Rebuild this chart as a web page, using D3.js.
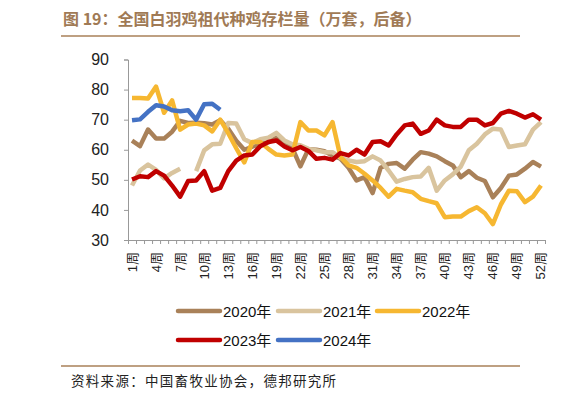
<html>
<head>
<meta charset="utf-8">
<script src="https://d3js.org/d3.v7.min.js"></script>
<style>
body { margin: 0; background: #fff; }
text { font-family: Arial, "Liberation Sans", "Noto Sans CJK SC", sans-serif; }
.cjk { font-family: "Noto Sans CJK SC", sans-serif; }
</style>
</head>
<body>
<svg width="582" height="404"></svg>
<script>
// weeks 1..52
var weeks = d3.range(1, 53);
var weekLabels = weeks.filter(function(w) { return (w - 1) % 3 == 0; });
var yTicks = [30, 40, 50, 60, 70, 80, 90];

var s2020 = [63, 61.2, 66.7, 63.7, 63.7, 66, 69.6, 68.9, 69, 68.8, 68.4, 69.8, 67, 63, 60, 61, 62, 62.5, 64, 62,
  60.5, 54.5, 60.2, 60, 59.5, 58.1, 57, 54, 49.8, 50.9, 45.6, 54, 55.3, 55.6, 53.7, 56.7, 59.2, 58.7, 57.8, 56.2,
  54.8, 50.9, 52.9, 50.7, 49.6, 44.2, 47.3, 51.4, 51.8, 53.7, 55.9, 54.4];
var s2021 = [48.1, 53.1, 55.1, 53.3, 50.5, 52.3, 53.7, null, 52.9, 59.8, 61.8, 62, 68.9, 68.7, 63.5, 62.2, 63.5, 64, 65.6, 63.1,
  61.8, 61.5, 60.3, 59.8, 59.2, 59.2, 57.3, 56.4, 55.9, 56.2, 57.8, 56.4, 53.1, 49.4, 50.3, 50.9, 51.1, 54, 46.4, 49.8,
  51.8, 54.4, 59.8, 62, 65.1, 67, 66.7, 60.9, 61.4, 61.8, 66.7, 69.2];
var s2022 = [77.2, 77.2, 77, 81, 72.3, 76.4, 66.7, 68.4, 68.7, 68.1, 66.1, 70, 65.5, 60.5, 55.8, 62.6, 62.6, 60.3, 58.4, 58.1,
  58.4, 69.2, 66.4, 66.4, 64.8, 69.2, 57.6, 54.8, 54, 52, 49.8, 47.3, 44.4, 47, 46.4, 45.9, 43.7, 42.9, 42.2, 37.6,
  37.8, 37.8, 39.6, 40.9, 38.9, 35.3, 41.8, 46.4, 46.2, 42.6, 44.4, 48.1];
var s2023 = [50.1, 51.2, 50.9, 52.9, 51.4, 48.1, 44.4, 49.6, 49.8, 52.9, 46.4, 47.3, 52.9, 56.4, 58.1, 58.4, 61.2, 62.6, 63.1, 61.1,
  59.8, 60.9, 59.6, 57, 57.3, 56.7, 58.9, 58.1, 60, 58.4, 62.6, 62.8, 61.4, 65.1, 68.1, 68.7, 65.3, 66.4, 70, 68.1,
  67.6, 67.6, 70, 70, 68.1, 68.9, 72, 72.9, 72, 70.7, 71.8, 70];
var s2024 = [69.8, 70.1, 72.6, 74.8, 74.4, 73.1, 72.8, 73.1, 70, 75.1, 75.3, 73.3];

var seriesNames = ["2020年", "2021年", "2022年", "2023年", "2024年"];
var seriesData = [s2020, s2021, s2022, s2023, s2024];
var colors = ["#a98159", "#d9c49e", "#f6b731", "#c00000", "#4472c4"];

var svg = d3.select("svg");

// title and rules
svg.append("text").attr("class", "cjk")
  .attr("x", 63).attr("y", 25)
  .attr("font-size", 16).attr("font-weight", "bold").attr("fill", "#a07a55")
  .text("图 19：全国白羽鸡祖代种鸡存栏量（万套，后备）");
svg.append("line").attr("x1", 61).attr("x2", 520).attr("y1", 36).attr("y2", 36)
  .attr("stroke", "#a98159").attr("stroke-width", 1.5);
svg.append("line").attr("x1", 61).attr("x2", 520).attr("y1", 366).attr("y2", 366)
  .attr("stroke", "#a98159").attr("stroke-width", 1.5);

var x = d3.scaleBand().domain(weeks).range([128, 545]);
var xEdge = d3.scaleLinear().domain([0, 52]).range([128, 545]);
var y = d3.scaleLinear().domain([30, 90]).range([240, 59.5]);

// y axis
var yAxis = svg.append("g").attr("transform", "translate(128,0)")
  .call(d3.axisLeft(y).tickValues(yTicks).tickSize(4).tickPadding(15));
yAxis.selectAll("text").attr("font-size", 16).attr("fill", "#222")
  .attr("font-family", "Arial, 'Liberation Sans', sans-serif");
yAxis.selectAll("line, path").attr("stroke", "#999");

// x axis, ticks between weeks
var xAxis = svg.append("g").attr("transform", "translate(0,240)")
  .call(d3.axisBottom(xEdge).tickValues(d3.range(0, 53)).tickSize(4).tickFormat(""));
xAxis.selectAll("line, path").attr("stroke", "#999");

svg.append("g").selectAll("text")
  .data(weekLabels).enter().append("text")
  .attr("transform", function(d) {
    return "translate(" + (x(d) + x.bandwidth() / 2 + 4.5) + ",252) rotate(-90)";
  })
  .attr("text-anchor", "end")
  .attr("font-size", 13).attr("fill", "#222")
  .text(function(d) { return d + "周"; });

// lines
var line = d3.line()
  .defined(function(d) { return d != null; })
  .x(function(d, i) { return x(weeks[i]) + x.bandwidth() / 2; })
  .y(function(d) { return y(d); });

svg.append("g").selectAll("path")
  .data(seriesData).enter().append("path")
  .attr("d", line)
  .attr("fill", "none")
  .attr("stroke", function(d, i) { return colors[i]; })
  .attr("stroke-width", 4.5)
  .attr("stroke-linejoin", "round");

// legend
var legPos = [[178, 311], [278, 311], [377, 311], [178, 340], [278, 340]];
var leg = svg.append("g").selectAll("g")
  .data(seriesNames).enter().append("g")
  .attr("transform", function(d, i) { return "translate(" + legPos[i][0] + "," + legPos[i][1] + ")"; });
leg.append("line").attr("x1", 0).attr("x2", 42)
  .attr("stroke", function(d, i) { return colors[i]; })
  .attr("stroke-width", 4.5).attr("stroke-linecap", "round");
leg.append("text").attr("x", 45).attr("y", 5.5)
  .attr("font-size", 15).attr("fill", "#111")
  .text(function(d) { return d; });

// source
svg.append("text").attr("class", "cjk")
  .attr("x", 71).attr("y", 386)
  .attr("font-size", 13.5).attr("letter-spacing", 1.3).attr("fill", "#222")
  .text("资料来源：中国畜牧业协会，德邦研究所");
</script>
</body>
</html>
